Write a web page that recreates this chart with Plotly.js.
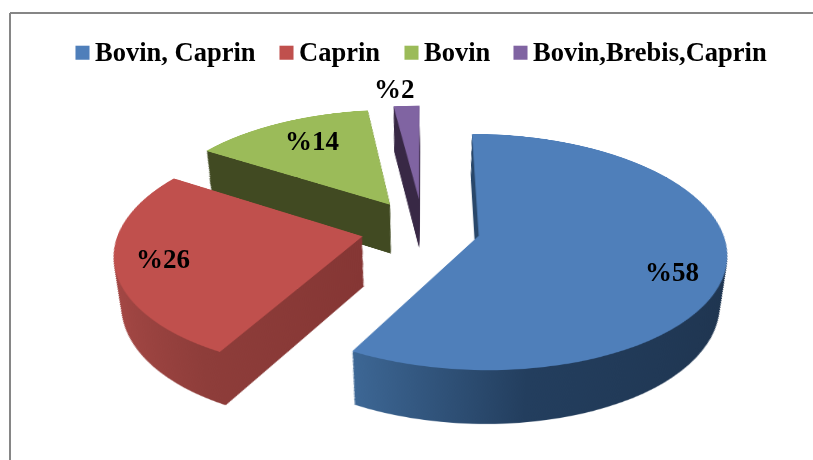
<!DOCTYPE html>
<html>
<head>
<meta charset="utf-8">
<script src="https://cdn.plot.ly/plotly-3.0.1.min.js"></script>
<style>
html, body { margin: 0; padding: 0; background: #ffffff; }
#chart { width: 813px; height: 460px; }
</style>
</head>
<body>
<div id="chart"></div>
<script>
// Herd composition: share of each species mix, in percent
const categories = ['Bovin, Caprin', 'Caprin', 'Bovin', 'Bovin,Brebis,Caprin'];
const shares = [58, 26, 14, 2];
const pulls = [0.235, 0.255, 0.26, 0.27];
const faceColors = ['#4f7fba', '#c0504d', '#9bbb59', '#8064a2'];
const wallStops = [
  [[0, '#3d6795'], [0.42, '#233e5e'], [1, '#1f3550']],
  [[0, '#a54845'], [0.45, '#8e3d3a'], [1, '#853634']],
  [[0, '#414a22'], [1, '#414a22']],
  [[0, '#382845'], [1, '#382845']]
];
const labelPixels = [[672, 272], [163, 259], [312, 141], [394, 89]];
const legendTextX = [95, 299, 424, 533];

// Extrusion settings for the tilted disc
const layerCount = 46;
const planeDepth = 100;
const lowestScale = 0.92;
const planeRadius = 243;
const tiltDeg = 62;
const perspectivePx = 1570;
const discCenter = [423, 229];
const W = 813, H = 460;

const data = [];
for (let k = 0; k < layerCount; k++) {
  const isTop = k === layerCount - 1;
  data.push({
    type: 'pie',
    labels: categories,
    values: shares,
    pull: pulls,
    sort: false,
    direction: 'clockwise',
    rotation: 0,
    textinfo: 'none',
    hoverinfo: 'skip',
    showlegend: isTop,
    marker: { colors: faceColors, line: { width: 0 } }
  });
}

const frameColor = '#868686';
const layout = {
  width: W,
  height: H,
  margin: { l: 0, r: 0, t: 0, b: 0 },
  paper_bgcolor: 'rgba(0,0,0,0)',
  font: { family: 'Liberation Serif', color: '#000000' },
  showlegend: true,
  legend: {
    orientation: 'h',
    x: 0, xanchor: 'left',
    y: 1 - 27 / H, yanchor: 'top',
    bgcolor: 'rgba(0,0,0,0)',
    font: { family: 'Liberation Serif', size: 26.5, weight: 700, color: '#000000' }
  },
  shapes: [
    { type: 'line', xref: 'paper', yref: 'paper', x0: 10 / W, x1: 10 / W, y0: 0, y1: 1 - 13 / H, line: { color: frameColor, width: 2 } },
    { type: 'line', xref: 'paper', yref: 'paper', x0: 10 / W, x1: 1, y0: 1 - 13 / H, y1: 1 - 13 / H, line: { color: frameColor, width: 2 } }
  ],
  annotations: shares.map((v, i) => ({
    text: '<b>%' + v + '</b>',
    xref: 'paper', yref: 'paper',
    x: labelPixels[i][0] / W, y: 1 - labelPixels[i][1] / H,
    xanchor: 'center', yanchor: 'middle',
    showarrow: false,
    font: { family: 'Liberation Serif', size: 27, color: '#000000' }
  }))
};

const NS = 'http://www.w3.org/2000/svg';

// Moves the stacked pies into their own tilted svg and shades the lower layers as walls
function tiltDisc(gd) {
  const pieLayer = gd.querySelector('.pielayer');
  const size = 1000;
  const svg = document.createElementNS(NS, 'svg');
  svg.setAttribute('width', size);
  svg.setAttribute('height', size);
  svg.style.position = 'absolute';
  svg.style.left = (discCenter[0] - size / 2) + 'px';
  svg.style.top = (discCenter[1] - size / 2) + 'px';
  svg.style.overflow = 'visible';
  svg.style.transform = 'perspective(' + perspectivePx + 'px) rotateX(' + tiltDeg + 'deg)';

  const defs = document.createElementNS(NS, 'defs');
  wallStops.forEach((stops, i) => {
    const g = document.createElementNS(NS, 'linearGradient');
    g.setAttribute('id', 'wall' + i);
    stops.forEach(s => {
      const st = document.createElementNS(NS, 'stop');
      st.setAttribute('offset', s[0]);
      st.setAttribute('stop-color', s[1]);
      g.appendChild(st);
    });
    defs.appendChild(g);
  });
  svg.appendChild(defs);
  svg.appendChild(pieLayer);
  const container = gd.querySelector('.svg-container');
  container.insertBefore(svg, container.firstChild);

  const cd = gd.calcdata[0][0];
  const scale = planeRadius / cd.r;
  pieLayer.querySelectorAll('.trace').forEach((tr, k) => {
    const t = k / (layerCount - 1);
    const shift = (1 - t) * planeDepth;
    const f = scale * (lowestScale + (1 - lowestScale) * t);
    tr.setAttribute('transform',
      'translate(' + size / 2 + ',' + (size / 2 + shift) + ') scale(' + f + ') translate(' + (-cd.cx) + ',' + (-cd.cy) + ')');
    if (k < layerCount - 1) {
      tr.querySelectorAll('.slice path.surface').forEach((p, i) => {
        p.style.fill = 'url(#wall' + i + ')';
      });
    }
  });
}

// Spaces the legend entries, sizes their swatches and lets the row run its full width
function placeLegend(gd) {
  const box = gd.querySelector('.legend .scrollbox');
  if (box) { box.removeAttribute('clip-path'); box.style.clipPath = 'none'; }
  const legend = gd.querySelector('.legend');
  if (legend) { legend.removeAttribute('clip-path'); legend.style.clipPath = 'none'; }
  gd.querySelectorAll('.legend .traces').forEach((item, i) => {
    const m = /translate\(([^,]+),\s*([^)]+)\)/.exec(item.getAttribute('transform') || '');
    const y = m ? parseFloat(m[2]) : 0;
    item.setAttribute('transform', 'translate(' + (legendTextX[i] - 40) + ',' + y + ')');
    const sw = item.querySelector('.legendpoints path');
    if (sw) sw.setAttribute('transform', 'translate(27.5,2) scale(1.17)');
  });
}

Plotly.newPlot('chart', data, layout, { displayModeBar: false, staticPlot: true }).then(gd => {
  tiltDisc(gd);
  placeLegend(gd);
});
</script>
</body>
</html>
